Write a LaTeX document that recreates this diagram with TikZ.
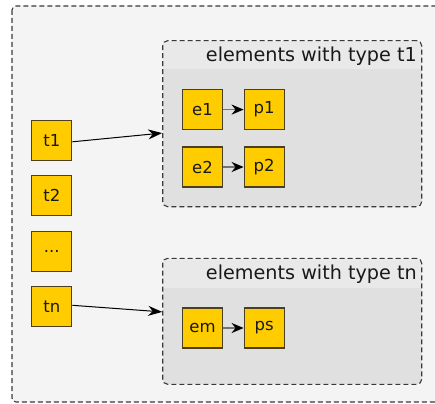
\documentclass[tikz,border=0pt]{standalone}
\usepackage{fontspec}
\setmainfont{DejaVu Sans}
\usetikzlibrary{arrows.meta,calc}
\definecolor{boxyellow}{HTML}{FFCC00}
\definecolor{boxborder}{HTML}{4A4020}
\definecolor{outerbg}{HTML}{F4F4F4}
\definecolor{groupbg}{HTML}{E0E0E0}
\definecolor{headbg}{HTML}{E9E9E9}
\definecolor{dashcol}{HTML}{3A3A3A}
\tikzset{
  item/.style={draw=boxborder, line width=1.2pt, fill=boxyellow, minimum width=40pt, minimum height=40pt, inner sep=0pt, font=\fontsize{16.5}{18}\selectfont, text=black!90},
  groupbox/.style={draw=dashcol, dash pattern=on 5pt off 3pt, line width=1.1pt, rounded corners=5pt},
  bigarrow/.style={-{Stealth[length=14pt,width=10pt]}, line width=1pt, black},
  smallarrow/.style={-{Stealth[length=12pt,width=10pt,color=black]}, line width=1.8pt, black!55},
  titletext/.style={font=\fontsize{19.2}{21}\selectfont, anchor=east, inner sep=0pt, text=black!90}
}
\begin{document}
\begin{tikzpicture}[x=1pt,y=-1pt]
\useasboundingbox (0,0) rectangle (435,403);
\begin{scope}
\clip (0,0) rectangle (435,403);
% outer container
\fill[outerbg, rounded corners=4pt] (12,6) rectangle (445,402);
\draw[groupbox, rounded corners=4pt] (12,6) rectangle (445,402);
\end{scope}
% group 1
\begin{scope}
\clip[rounded corners=5pt] (162.7,40.7) rectangle (421.7,206.7);
\fill[groupbg] (162.7,40.7) rectangle (421.7,206.7);
\fill[headbg] (162.7,40.7) rectangle (421.7,69);
\end{scope}
\node[groupbox, minimum width=259pt, minimum height=166pt, inner sep=0pt] (g1) at (292.2,123.7) {};
\node[titletext] (g1title) at (417,56) {elements with type t1};
% group 2
\begin{scope}
\clip[rounded corners=5pt] (162.7,258.3) rectangle (421.7,384.3);
\fill[groupbg] (162.7,258.3) rectangle (421.7,384.3);
\fill[headbg] (162.7,258.3) rectangle (421.7,287.7);
\end{scope}
\node[groupbox, minimum width=259pt, minimum height=126pt, inner sep=0pt] (g2) at (292.2,321.3) {};
\node[titletext] (g2title) at (417,274) {elements with type tn};
% left column
\node[item] (t1) at (51.8,140.3) {t1};
\node[item] (t2) at (51.8,195.8) {t2};
\node[item] (dots) at (51.8,251.3) {...};
\node[item] (tn) at (51.8,306.8) {tn};
% inner items
\node[item] (e1) at (202.5,109.6) {e1};
\node[item] (p1) at (264.2,109.6) {p1};
\node[item] (e2) at (202.5,167) {e2};
\node[item] (p2) at (264.2,167) {p2};
\node[item] (em) at (202.5,328) {em};
\node[item] (ps) at (264.2,328) {ps};
% connectors
\coordinate (g1in) at ($(g1.north west)!0.556!(g1.south west)$);
\coordinate (g2in) at ($(g2.north west)!0.426!(g2.south west)$);
\draw[bigarrow] ([yshift=-1.5pt]t1.east) -- (g1in);
\draw[bigarrow] ([yshift=1.5pt]tn.east) -- (g2in);
\draw[smallarrow] (e1) -- (p1);
\draw[smallarrow] (e2) -- (p2);
\draw[smallarrow] (em) -- (ps);
\end{tikzpicture}
\end{document}
